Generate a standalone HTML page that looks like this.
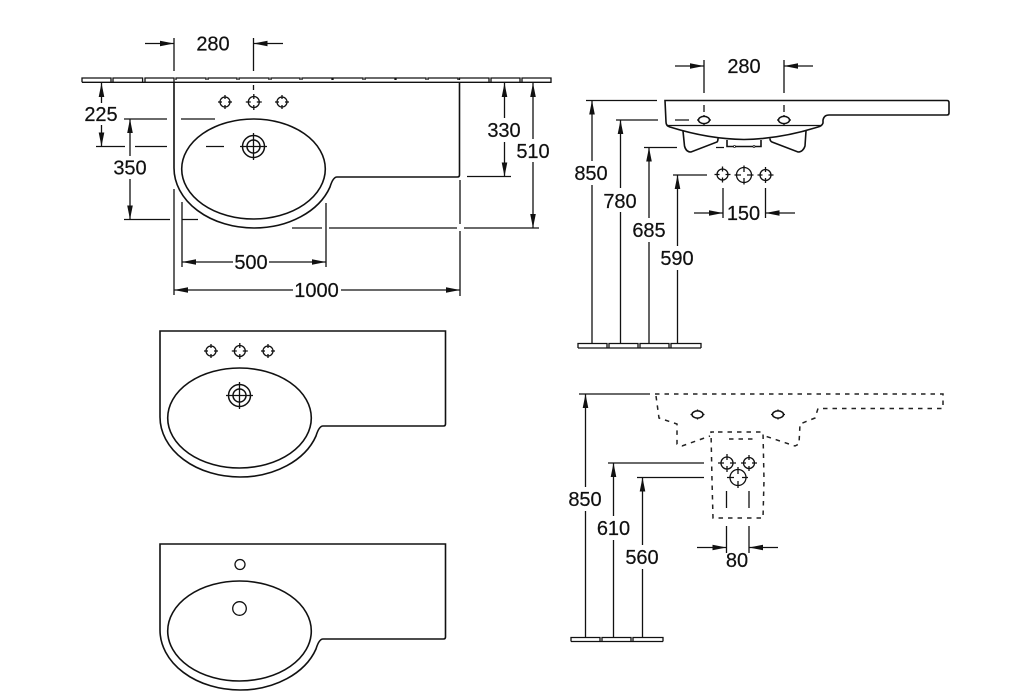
<!DOCTYPE html>
<html><head><meta charset="utf-8"><style>
html,body{margin:0;padding:0;background:#fff}
svg{display:block}
text{font-family:"Liberation Sans",sans-serif;font-size:20px;fill:#111;text-anchor:middle;stroke:#111;stroke-width:.2}
.l{fill:none;stroke:#111;stroke-width:1.3}
.t{fill:none;stroke:#111;stroke-width:1.6}
.d{fill:none;stroke:#222;stroke-width:1.5;stroke-dasharray:4.5 5}
</style></head><body>
<svg width="1016" height="700" viewBox="0 0 1016 700" xmlns="http://www.w3.org/2000/svg">
<defs>
<polygon id="a" points="0,0 -14,-2.8 -14,2.8" fill="#111"/>
<g id="h5" class="l"><circle r="5"/><path d="M-7 0H-3M3 0H7M0 -7V-3M0 3V7"/></g>
<g id="h6" class="l"><circle r="5.5"/><path d="M-8 0H-3M3 0H8M0 -8V-3M0 3V8"/></g>
<g id="h7" class="l" stroke-width="1.5"><circle r="7.500"/><path d="M-9.500 0H-3M3 0H9.500M0 -9.500V-3M0 3V9.500"/></g>
<g id="dr" class="l"><circle r="11" stroke-width="1.5"/><circle r="6.5" stroke-width="1.5"/><path d="M-13.5 0H13.5M0 -13.5V13.5"/></g>
<g id="ov" class="l"><ellipse rx="5.5" ry="3.6" stroke-width="1.5"/><path d="M-7 0H-5.500M5.500 0H7M0 -5V-3.600M0 3.600V5"/></g>
</defs>

<!-- main sink -->
<path class="l" stroke-width="1.5" d="M82 82.3H551V78H522V82M520 82V78H491V82M489 82V78H459.5V80M458 80V78H428V80M426 80V78H396V80M395 80V78H365V80M363 80V78H333V80M332 80V78H302V80M300 80V78H271V80M269 80V78H239V80M237 80V78H208V80M206 80V78H176V80M174 82V78H145V82M142.6 82V78H113V82M111 82V78H82V82.3"/>
<path class="t" d="M174 82V168A80 60 0 0 0 254 228A80 60 0 0 0 330 187Q333 177 337 177H457.5Q459.5 177 459.5 175V82"/>
<ellipse class="t" cx="253.5" cy="169" rx="71.8" ry="50"/>
<use href="#h5" x="225" y="102"/><use href="#h6" x="253.8" y="102"/><use href="#h5" x="282" y="102"/>
<use href="#dr" x="253.5" y="146.5"/>
<!-- top 280 -->
<path class="l" d="M174 38V71M253.5 38V71M253.5 85V90M145 43.5H174M253.5 43.5H283"/>
<use href="#a" x="174" y="43.5"/><use href="#a" transform="translate(253.5,43.5) rotate(180)"/>
<text x="213" y="50.5">280</text>
<!-- 225 -->
<path class="l" d="M101.5 82V103M101.5 125V146.5M96 146.5H125M135 146.5H167M206 146.5H224M124 119H167M181 119H215M124 219.5H170M182 219.5H198"/>
<use href="#a" transform="translate(101.5,83) rotate(-90)"/><use href="#a" transform="translate(101.5,146.5) rotate(90)"/>
<text x="101" y="121">225</text>
<!-- 350 -->
<path class="l" d="M130 119V156M130 179V219.5"/>
<use href="#a" transform="translate(130,119) rotate(-90)"/><use href="#a" transform="translate(130,219.5) rotate(90)"/>
<text x="130" y="174.500">350</text>
<!-- 500 / 1000 -->
<path class="l" d="M174 189V295M182 202V267M326 203V267M460 180V224M460 231V296M182 262H233M269 262H326M174 290H293M341 290H460"/>
<use href="#a" transform="translate(182,262) rotate(180)"/><use href="#a" x="326" y="262"/>
<use href="#a" transform="translate(174,290) rotate(180)"/><use href="#a" x="460" y="290"/>
<text x="251" y="269">500</text>
<text x="316.500" y="297">1000</text>
<!-- 330 / 510 -->
<path class="l" d="M467 176.500H511M292 228H322M329 228H457M464 228H539M504.500 82V118M504.500 142V176.500M533 82V139M533 162V228"/>
<use href="#a" transform="translate(504.500,83) rotate(-90)"/><use href="#a" transform="translate(504.500,176.500) rotate(90)"/>
<use href="#a" transform="translate(533,83) rotate(-90)"/><use href="#a" transform="translate(533,228) rotate(90)"/>
<text x="504" y="137">330</text>
<text x="533" y="158">510</text>

<!-- second sink -->
<g transform="translate(-14,249)">
<path class="t" d="M174 82V168A80 60 0 0 0 254 228A80 60 0 0 0 330 187Q333 177 337 177H457.5Q459.5 177 459.5 175V82Z"/>
<ellipse class="t" cx="253.5" cy="169" rx="71.8" ry="50"/>
<use href="#h5" x="225" y="102"/><use href="#h6" x="253.8" y="102"/><use href="#h5" x="282" y="102"/>
<use href="#dr" x="253.5" y="146.5"/>
</g>
<!-- third sink -->
<g transform="translate(-14,462)">
<path class="t" d="M174 82V168A80 60 0 0 0 254 228A80 60 0 0 0 330 187Q333 177 337 177H457.5Q459.5 177 459.5 175V82Z"/>
<ellipse class="t" cx="253.5" cy="169" rx="71.8" ry="50"/>
<circle class="l" cx="254" cy="102.500" r="5"/>
<circle class="l" cx="253.500" cy="146.500" r="6.800"/>
</g>

<!-- top-right elevation -->
<path class="t" d="M665 100.500H947Q949 100.500 949 102.500V113Q949 115 947 115H829Q824 115 823 120V123Q822 126 818 127Q780 139 744 139.500Q708 139 670 127Q666 126 666 122Z"/>
<path class="l" d="M667 125.500H822"/>
<path class="t" d="M683 131L684.500 146Q686 152 691 152L717 142Q718 141 718 138.500M806 131L805 146Q803 152 798 152L772 142Q770 141 770 138.500M727 140V146.500H761V140"/>
<circle cx="734.500" cy="146.500" r="1" fill="#fff" stroke="#111" stroke-width=".8"/><circle cx="754" cy="146.500" r="1" fill="#fff" stroke="#111" stroke-width=".8"/>
<use href="#ov" x="704" y="120"/><use href="#ov" x="784" y="120"/>
<path class="l" d="M704 60V93M784 60V93M704 105V112M784 105V112M675 66H704M784 66H813"/>
<use href="#a" x="704" y="66"/><use href="#a" transform="translate(784,66) rotate(180)"/>
<text x="744" y="73">280</text>
<path class="l" d="M586 100.500H657M616 120H658M675 120H689M644 147.500H677M716 147.500H724M673 175H707"/>
<path class="l" d="M592 100.500V161M592 185V343M620.500 120V188M620.500 212V343M649 147.500V218M649 242V343M677.500 175V246M677.500 270V343"/>
<use href="#a" transform="translate(592,100.500) rotate(-90)"/><use href="#a" transform="translate(620.500,120) rotate(-90)"/><use href="#a" transform="translate(649,147.500) rotate(-90)"/><use href="#a" transform="translate(677.500,175) rotate(-90)"/>
<text x="591" y="180">850</text><text x="620" y="208">780</text><text x="649" y="237">685</text><text x="677" y="265">590</text>
<use href="#h6" x="722.500" y="174.500"/><use href="#h7" x="744" y="175"/><use href="#h6" x="765.500" y="175"/>
<path class="l" d="M723 188V218M765.500 188V218M694 213H723M765.500 213H795"/>
<use href="#a" x="723" y="213"/><use href="#a" transform="translate(765.500,213) rotate(180)"/>
<text x="743.500" y="220">150</text>
<path class="l" d="M578 348V343.500H607V348M609 348V343.500H638V348M640 348V343.500H669V348M671 348V343.500H701V348M578 348H701" stroke-width="1.4"/>

<!-- bottom-right elevation -->
<path class="d" d="M655 394H943V408.500H818L815 418L800 424L799 444L795 446L765 436M656 396L659 418L677 424L677 444L682 446L710 436"/>
<path class="d" d="M718 432H763L764 480L763 518H713L712 480L711 432H714M729 439H755"/>
<use href="#ov" x="697.500" y="414.500"/><use href="#ov" x="778" y="414.500"/>
<g class="l" stroke-width="1.4"><circle cx="727" cy="463" r="6"/><path d="M718 463H724M730 463H736M727 454V460M727 466V472"/><circle cx="749" cy="463" r="5.500"/><path d="M741 463H746M752 463H757M749 455V460M749 466V471"/><circle cx="738" cy="477.500" r="8"/><path d="M727 477.500H734M742 477.500H748M738 467V474M738 481V488"/></g>
<path class="l" d="M726.500 491V508M749 491V508M726.500 526V553M749 526V553M697 547.500H726.500M749 547.500H778"/>
<use href="#a" x="726.500" y="547.500"/><use href="#a" transform="translate(749,547.500) rotate(180)"/>
<text x="737" y="567">80</text>
<path class="l" stroke-width="1.5" d="M579 394H650M608 463H704M637 477.500H704"/>
<path class="l" d="M585.500 394V487M585.500 511V637M613.500 463V516M613.500 540V637M642.500 477.500V545M642.500 569V637"/>
<use href="#a" transform="translate(585.500,394) rotate(-90)"/><use href="#a" transform="translate(613.500,463) rotate(-90)"/><use href="#a" transform="translate(642.500,477.500) rotate(-90)"/>
<text x="585" y="506">850</text><text x="613.500" y="535">610</text><text x="642" y="564">560</text>
<path class="l" stroke-width="1.4" d="M571 641.500V637.500H600V641.500M602 641.500V637.500H631V641.500M633 641.500V637.500H663V641.500M571 641.500H663"/>
</svg>
</body></html>
